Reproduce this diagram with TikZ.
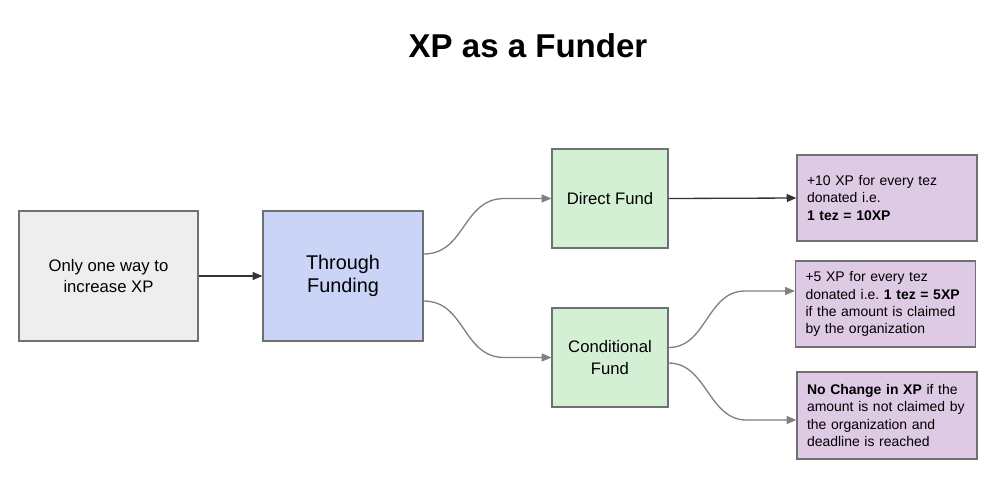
\documentclass[tikz,border=0pt]{standalone}
\usepackage{fontspec}
\setmainfont{Liberation Sans}
\usetikzlibrary{arrows.meta}
\definecolor{boxgray}{HTML}{EEEEEE}
\definecolor{boxblue}{HTML}{C9D4F6}
\definecolor{boxgreen}{HTML}{D4F0D4}
\definecolor{boxpurple}{HTML}{DFCAE6}
\definecolor{edge}{HTML}{707070}
\tikzset{
  box/.style={draw=edge, line width=0.7pt, align=center, font=\fontsize{9.5}{12}\selectfont},
  note/.style={box, fill=boxpurple, align=left, text width=3.2cm, inner xsep=0.2cm,
    minimum height=1.72cm, font=\fontsize{7.95}{9.8}\selectfont\frenchspacing},
  straight/.style={line width=0.75pt, draw=black!80, -{Triangle[length=5.5pt,width=4.5pt]}},
  curvy/.style={line width=0.75pt, draw=gray, -{Triangle[length=5.5pt,width=4.5pt]}}
}
\begin{document}
\begin{tikzpicture}[x=0.02cm, y=-0.02cm]
\useasboundingbox (0,0) rectangle (1008,498);
\node[font=\fontsize{18.8}{22}\selectfont\bfseries] (title) at (528,46) {XP as a Funder};
\node[box, fill=boxgray, minimum width=3.58cm, minimum height=2.6cm] (way) at (108.5,276) {Only one way to\\increase XP};
\node[box, fill=boxblue, minimum width=3.2cm, minimum height=2.6cm, font=\fontsize{11.3}{13}\selectfont] (thru) at (343,276) {Through\\Funding};
\node[box, fill=boxgreen, minimum width=2.32cm, minimum height=1.98cm] (direct) at (610,198.5) {Direct Fund};
\node[box, fill=boxgreen, minimum width=2.32cm, minimum height=1.98cm] (cond) at (610,357.5) {Conditional\\Fund};
\node[note] (ten) at (887,198) {+10 XP for every tez\\donated i.e.\\\textbf{1 tez = 10XP}};
\node[note] (five) at (885.5,304) {+5 XP for every tez\\donated i.e. \textbf{1 tez = 5XP}\\if the amount is claimed\\by the organization};
\node[note, minimum height=1.74cm] (none) at (887,415.5) {\textbf{No Change in XP} if the\\amount is not claimed by\\the organization and\\deadline is reached};
% connectors
\draw[straight] (way.east) -- (thru.west);
\draw[curvy] ([yshift=0.44cm]thru.east) .. controls +(42,0) and +(-42,0) .. ([xshift=-0.94cm]direct.west) -- (direct.west);
\draw[curvy] ([yshift=-0.5cm]thru.east) .. controls +(42,0) and +(-42,0) .. ([xshift=-0.94cm]cond.west) -- (cond.west);
\draw[straight] (direct.east) -- (ten.west);
\draw[curvy] ([yshift=0.2cm]cond.east) .. controls +(38,0) and +(-38,0) .. ([xshift=-1cm, yshift=0.26cm]five.west) -- ([yshift=0.26cm]five.west);
\draw[curvy] ([yshift=-0.11cm]cond.east) .. controls +(38,0) and +(-38,0) .. ([xshift=-1cm, yshift=-0.09cm]none.west) -- ([yshift=-0.09cm]none.west);
\end{tikzpicture}
\end{document}
